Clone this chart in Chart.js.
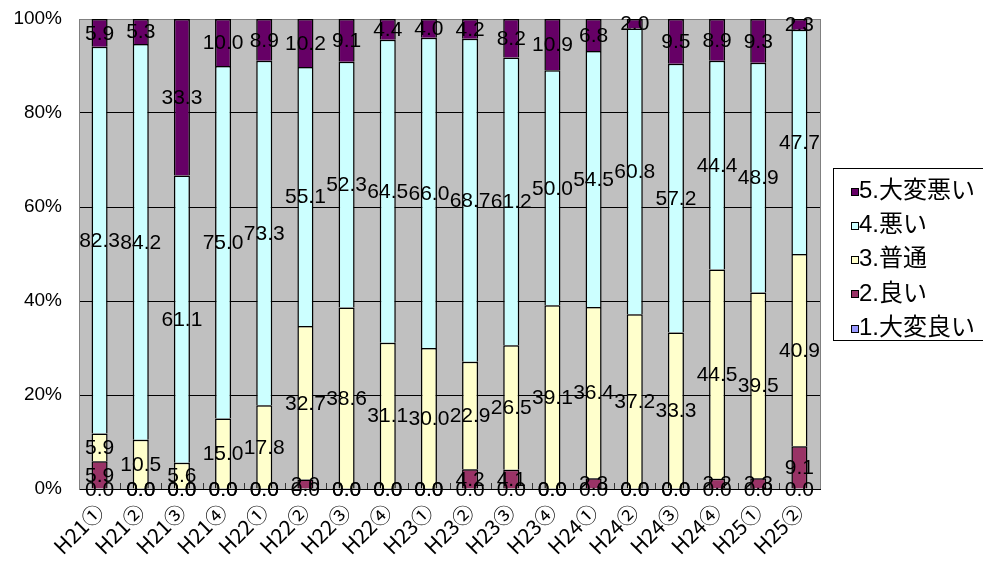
<!DOCTYPE html>
<html>
<head>
<meta charset="utf-8">
<script src="https://cdn.jsdelivr.net/npm/chart.js@4/dist/chart.umd.min.js"></script>
<style>
html,body{margin:0;padding:0;background:#fff;}
#wrap{position:relative;width:983px;height:571px;}
</style>
</head>
<body>
<div id="wrap"><canvas id="c" width="983" height="571"></canvas></div>
<script>
const categories = ["H21①","H21②","H21③","H21④","H22①","H22②","H22③","H22④","H23①","H23②","H23③","H23④","H24①","H24②","H24③","H24④","H25①","H25②"];
const veryGood = [0,0,0,0,0,0,0,0,0,0,0,0,0,0,0,0,0,0];
const good     = [5.9,0,0,0,0,2.0,0,0,0,4.2,4.1,0,2.3,0,0,2.2,2.3,9.1];
const normal   = [5.9,10.5,5.6,15.0,17.8,32.7,38.6,31.1,30.0,22.9,26.5,39.1,36.4,37.2,33.3,44.5,39.5,40.9];
const bad      = [82.3,84.2,61.1,75.0,73.3,55.1,52.3,64.5,66.0,68.7,61.2,50.0,54.5,60.8,57.2,44.4,48.9,47.7];
const veryBad  = [5.9,5.3,33.3,10.0,8.9,10.2,9.1,4.4,4.0,4.2,8.2,10.9,6.8,2.0,9.5,8.9,9.3,2.3];
const seriesNames = ["1.大変良い","2.良い","3.普通","4.悪い","5.大変悪い"];
const yTicks = [0,20,40,60,80,100];

const FONT = '"Liberation Sans","Noto Sans CJK JP",Arial,sans-serif';
const XFONT = '"Noto Sans CJK JP","Liberation Sans",sans-serif';
const colors = ["#9999FF","#993366","#FFFFCC","#CCFFFF","#660066"];
const seriesData = [veryGood, good, normal, bad, veryBad];

const datasets = seriesData.map((d,i)=>({
  label: seriesNames[i],
  data: d,
  backgroundColor: colors[i],
  borderColor: "#000",
  borderWidth: 1.5,
  barPercentage: 0.39,
  categoryPercentage: 1.0
}));

const bgPlugin = {
  id:'bg',
  beforeDraw(chart){
    const {ctx, chartArea:a} = chart;
    ctx.save();
    ctx.fillStyle = '#C0C0C0';
    ctx.fillRect(a.left, a.top, a.right-a.left, a.bottom-a.top);
    ctx.restore();
  },
  afterDraw(chart){
    const {ctx, chartArea:a} = chart;
    ctx.save();
    ctx.strokeStyle = '#808080';
    ctx.lineWidth = 1;
    ctx.beginPath();
    ctx.moveTo(Math.round(a.right)+0.5, a.top);
    ctx.lineTo(Math.round(a.right)+0.5, a.bottom);
    ctx.stroke();
    ctx.restore();
  }
};

const minorTicks = {
  id:'minorTicks',
  beforeDatasetsDraw(chart){
    const {ctx, chartArea:a} = chart;
    const n = categories.length;
    const w = (a.right - a.left)/n;
    ctx.save();
    ctx.strokeStyle = '#333';
    ctx.lineWidth = 1;
    ctx.beginPath();
    for(let i=1;i<n;i++){
      const x = Math.round(a.left + i*w)+0.5;
      ctx.moveTo(x, a.bottom);
      ctx.lineTo(x, a.bottom-6);
    }
    ctx.stroke();
    ctx.restore();
  }
};

const labelsPlugin = {
  id:'valLabels',
  afterDatasetsDraw(chart){
    const ctx = chart.ctx;
    ctx.save();
    ctx.font = '21px ' + FONT;
    ctx.fillStyle = '#000';
    ctx.textAlign = 'center';
    ctx.textBaseline = 'middle';
    chart.data.datasets.forEach((ds, i)=>{
      const meta = chart.getDatasetMeta(i);
      meta.data.forEach((el, j)=>{
        const v = ds.data[j];
        const y = (el.y + el.base)/2;
        ctx.fillText(v.toFixed(1), el.x, y + 1);
      });
    });
    ctx.restore();
  }
};

const legendPlugin = {
  id:'boxLegend',
  afterDraw(chart){
    const ctx = chart.ctx;
    const bx = 833, by = 168, bw = 160, bh = 172;
    ctx.save();
    ctx.strokeStyle = '#000';
    ctx.lineWidth = 1;
    ctx.strokeRect(bx+0.5, by+0.5, bw, bh);
    ctx.font = '24px ' + FONT;
    ctx.textBaseline = 'middle';
    ctx.textAlign = 'left';
    const rows = [4,3,2,1,0];
    rows.forEach((si, k)=>{
      const cy = 191 + k*34.3;
      ctx.fillStyle = colors[si];
      ctx.fillRect(851.5, Math.round(cy-3.5)+0.5, 7, 7);
      ctx.strokeStyle = '#000';
      ctx.strokeRect(851.5, Math.round(cy-3.5)+0.5, 7, 7);
      ctx.fillStyle = '#000';
      ctx.fillText(seriesNames[si], 859, cy);
    });
    ctx.restore();
  }
};

new Chart(document.getElementById('c'), {
  type:'bar',
  data:{ labels: categories, datasets },
  options:{
    responsive:false,
    animation:false,
    devicePixelRatio:1,
    layout:{ padding:{ top:19, right:163, left:0, bottom:0 } },
    plugins:{ legend:{display:false}, tooltip:{enabled:false} },
    scales:{
      x:{
        stacked:true,
        grid:{ display:false, drawTicks:false },
        border:{ display:true, color:'#000', width:1 },
        ticks:{ font:{ size:21, family:XFONT }, color:'#000', minRotation:45, maxRotation:45, padding:10, autoSkip:false },
        afterFit(s){ s.height = 82; s.paddingLeft = 0; s.paddingRight = 0; }
      },
      y:{
        stacked:true,
        min:0, max:100,
        afterBuildTicks(s){ s.ticks = yTicks.map(v=>({value:v})); },
        grid:{ color:(c)=> (c.tick && c.tick.value===100) ? '#808080' : '#000', lineWidth:1, drawTicks:false },
        border:{ display:true, color:'#808080', width:1 },
        ticks:{ font:{ size:19, family:FONT }, color:'#000', padding:17, callback:(v)=>v+'%' },
        afterFit(s){ s.width = 79; s.paddingTop = 0; s.paddingBottom = 0; }
      }
    }
  },
  plugins:[bgPlugin, minorTicks, labelsPlugin, legendPlugin]
});
</script>
</body>
</html>
